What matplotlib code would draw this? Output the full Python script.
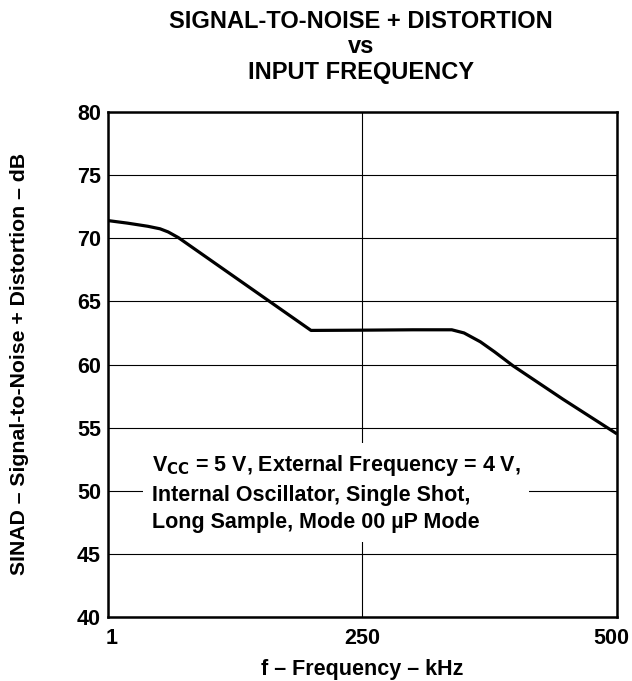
import matplotlib
matplotlib.use("Agg")
import matplotlib.pyplot as plt
from matplotlib.transforms import ScaledTranslation

plt.rcParams['font.family'] = ['Liberation Sans', 'DejaVu Sans']
plt.rcParams['font.weight'] = 'bold'

# SINAD curve (frequency in kHz, SINAD in dB)
freq_khz = [1, 20, 40, 52, 60, 70, 200, 250, 300, 338, 350, 366, 380, 398, 447, 500]
sinad_db = [71.4, 71.2, 70.95, 70.75, 70.5, 70.05, 62.7, 62.72, 62.75, 62.75, 62.5, 61.8, 61.0, 59.9, 57.25, 54.5]

x_ticks = [1, 250, 500]
y_ticks = [40, 45, 50, 55, 60, 65, 70, 75, 80]

title_lines = ["SIGNAL-TO-NOISE + DISTORTION", "vs", "INPUT FREQUENCY"]
note = ("V$_{\\mathbf{CC}}$ = 5 V, External Frequency = 4 V,\n"
        "Internal Oscillator, Single Shot,\n"
        "Long Sample, Mode 00 \u00b5P Mode")

fig = plt.figure(figsize=(6.32, 6.81), dpi=100)
ax = fig.add_axes([0.1709, 0.094, 0.8054, 0.7415])

ax.set_xlim(1, 500)
ax.set_ylim(40, 80)
ax.set_xticks(x_ticks)
ax.set_yticks(y_ticks)
ax.tick_params(length=0, labelsize=15.5)
ax.tick_params(axis='x', pad=8)
ax.tick_params(axis='y', pad=5)
for lbl in ax.get_xticklabels() + ax.get_yticklabels():
    lbl.set_fontweight('bold')

# keep the end labels inside the frame
xlabels = ax.get_xticklabels()
xlabels[0].set_transform(xlabels[0].get_transform() + ScaledTranslation(4 / 100, 0, fig.dpi_scale_trans))
xlabels[-1].set_transform(xlabels[-1].get_transform() + ScaledTranslation(-6 / 100, 0, fig.dpi_scale_trans))

ax.grid(True, color='black', linewidth=0.8)
ax.set_axisbelow(True)
for sp in ax.spines.values():
    sp.set_linewidth(1.8)

ax.plot(freq_khz, sinad_db, color='black', linewidth=2.3, solid_capstyle='butt', zorder=3)

ax.text(44, 49.8, note, fontsize=15.5, fontweight='bold', ha='left', va='center',
        linespacing=1.4, zorder=4,
        bbox=dict(facecolor='white', edgecolor='none', pad=6))

ax.set_xlabel("f \u2013 Frequency \u2013 kHz", fontsize=15.5, fontweight='bold', labelpad=7)
fig.text(20 / 632, 1 - 364 / 681, "SINAD \u2013 Signal-to-Noise + Distortion \u2013 dB",
         fontsize=15.3, fontweight='bold', rotation=90, ha='center', va='center')

fig.text(0.571, 0.969, title_lines[0], fontsize=17, fontweight='bold', ha='center', va='center')
fig.text(0.571, 0.932, title_lines[1], fontsize=17, fontweight='bold', ha='center', va='center')
fig.text(0.571, 0.894, title_lines[2], fontsize=17, fontweight='bold', ha='center', va='center')

fig.savefig("out.png", dpi=100)
